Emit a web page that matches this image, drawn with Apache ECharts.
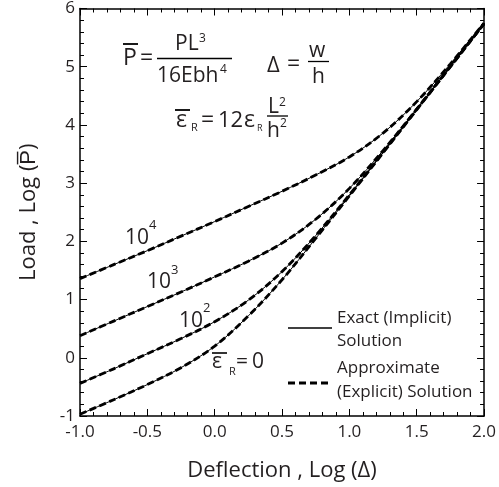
<!DOCTYPE html>
<html lang="en">
<head>
    <meta charset="UTF-8">
    <title>Load vs Deflection</title>
    <script src="https://cdn.jsdelivr.net/npm/echarts/dist/echarts.min.js"></script>
    <style>
        html, body { margin: 0; padding: 0; background: #fff; }
        #main { width: 499px; height: 487px; }
    </style>
</head>
<body>
<div id="main"></div>
<script type="text/javascript">
    // log(deflection) positions where the curves were read
    var logDefl = [-1, -0.75, -0.5, -0.25, 0, 0.25, 0.5, 0.75, 1, 1.25, 1.5, 1.75, 2];
    // log(load) for each residual strain value
    var loadEps0 = [-0.97, -0.72, -0.46, -0.17, 0.20, 0.72, 1.34, 2.05, 2.78, 3.52, 4.26, 5.00, 5.74];
    var loadEps1e2 = [-0.44, -0.19, 0.07, 0.33, 0.62, 0.99, 1.48, 2.10, 2.80, 3.53, 4.27, 5.00, 5.74];
    var loadEps1e3 = [0.38, 0.63, 0.88, 1.13, 1.39, 1.66, 1.97, 2.38, 2.91, 3.56, 4.27, 5.01, 5.74];
    var loadEps1e4 = [1.36, 1.60, 1.84, 2.09, 2.34, 2.60, 2.86, 3.14, 3.45, 3.86, 4.40, 5.05, 5.75];
    var xTicks = ['-1.0', '-0.5', '0.0', '0.5', '1.0', '1.5', '2.0'];

    var FONT = '"Open Sans", sans-serif';
    var INK = '#231f20';
    var MID = 0.29; // canvas middle sits about this many em above the baseline

    var myChart = echarts.init(document.getElementById('main'));

    function pairs(ys) {
        return logDefl.map(function (x, i) { return [x, ys[i]]; });
    }

    var curves = [loadEps0, loadEps1e2, loadEps1e3, loadEps1e4];
    var series = [];
    curves.forEach(function (ys) {
        // approximate (explicit) solution, dashed
        series.push({
            type: 'line', data: pairs(ys), smooth: 0.35,
            symbol: 'none', z: 3,
            lineStyle: {color: '#000', width: 2.8, type: [7, 3.5]}
        });
        // exact (implicit) solution, thin solid
        series.push({
            type: 'line', data: pairs(ys), smooth: 0.35,
            symbol: 'none', z: 4,
            lineStyle: {color: '#000', width: 1}
        });
    });

    // text placed by its baseline
    function txt(s, x, base, size) {
        return {
            type: 'text', x: x, y: base - MID * size, silent: true,
            style: {
                text: s, font: size + 'px ' + FONT, fill: INK,
                align: 'left', verticalAlign: 'middle',
                textAlign: 'left', textVerticalAlign: 'middle'
            }
        };
    }

    function bar(x1, y1, x2, y2, w, dash) {
        return {
            type: 'line', silent: true,
            shape: {x1: x1, y1: y1, x2: x2, y2: y2},
            style: {stroke: '#000', lineWidth: w || 1.4, lineDash: dash || null}
        };
    }

    var graphics = [
        // P bar = PL^3 / 16Ebh^4
        txt('P', 123, 65, 23), bar(123, 44, 138, 44, 1.8),
        txt('=', 140, 65, 23),
        txt('PL', 175, 50, 21), txt('3', 199, 42, 12),
        bar(157, 58.5, 232, 58.5, 1.3),
        txt('16Ebh', 157, 82, 21), txt('4', 220, 73, 12),
        // Delta = w / h
        txt('Δ', 267, 72, 22), txt('=', 287, 71, 23),
        txt('w', 309, 57, 21), bar(308, 61.5, 329, 61.5, 1.3),
        txt('h', 312, 83, 21),
        // eps_R bar = 12 eps_R L^2 / h^2
        txt('ε', 176, 127, 23), bar(175, 110, 190, 110, 1.8),
        txt('R', 191, 131, 11),
        txt('=', 201, 127, 23),
        txt('12', 218, 127, 22),
        txt('ε', 244, 127, 23), txt('R', 257, 131, 9),
        txt('L', 268, 113, 21), txt('2', 279, 106, 12),
        bar(267, 116, 288, 116, 1.3),
        txt('h', 267, 137, 21), txt('2', 280, 127, 12),
        // curve labels
        txt('10', 125, 244, 21), txt('4', 149, 229, 13),
        txt('10', 147, 288, 21), txt('3', 171, 274, 13),
        txt('10', 179, 327, 21), txt('2', 203, 312, 13),
        txt('ε', 212, 368, 21), bar(212, 353, 227, 353, 1.6),
        txt('R', 229, 375, 11),
        txt('=', 236, 368, 21), txt('0', 252, 368, 21),
        // legend
        bar(288, 328, 332, 328, 1.4),
        txt('Exact (Implicit)', 337, 323, 17), txt('Solution', 337, 346, 17),
        bar(288, 383, 332, 383, 2.8, [7, 4]),
        txt('Approximate', 337, 373, 17), txt('(Explicit) Solution', 337, 397, 17)
    ];

    var tickFont = {fontFamily: FONT, fontSize: 17, color: INK};
    var frameLine = {onZero: false, lineStyle: {color: '#000', width: 1.5}};
    var tick = {inside: true, length: 7, lineStyle: {color: '#000'}};
    var minor = {show: true, splitNumber: 5, length: 4, lineStyle: {color: '#000'}};

    var option = {
        backgroundColor: '#fff',
        animation: false,
        grid: {left: 80, right: 10.5, top: 7.5, bottom: 70},
        xAxis: [{
            type: 'value', min: -1, max: 2, interval: 0.5,
            name: 'Deflection , Log (Δ)', nameLocation: 'middle', nameGap: 44,
            nameTextStyle: {fontFamily: FONT, fontSize: 22, color: INK},
            axisLine: frameLine, axisTick: tick, minorTick: minor,
            splitLine: {show: false},
            axisLabel: Object.assign({margin: 8, formatter: function (v) {
                return xTicks[Math.round((v + 1) * 2)];
            }}, tickFont)
        }, {
            type: 'value', min: -1, max: 2, interval: 0.5, position: 'top',
            axisLine: frameLine, axisTick: tick, minorTick: minor,
            splitLine: {show: false}, axisLabel: {show: false}
        }],
        yAxis: [{
            type: 'value', min: -1, max: 6, interval: 1,
            name: 'Load , Log (P\u0305)', nameLocation: 'middle', nameGap: 40,
            nameTextStyle: {fontFamily: FONT, fontSize: 22, color: INK},
            axisLine: frameLine, axisTick: tick, minorTick: minor,
            splitLine: {show: false},
            axisLabel: Object.assign({margin: 5}, tickFont)
        }, {
            type: 'value', min: -1, max: 6, interval: 1, position: 'right',
            axisLine: frameLine, axisTick: tick, minorTick: minor,
            splitLine: {show: false}, axisLabel: {show: false}
        }],
        graphic: graphics,
        series: series
    };

    myChart.setOption(option);
</script>
</body>
</html>
